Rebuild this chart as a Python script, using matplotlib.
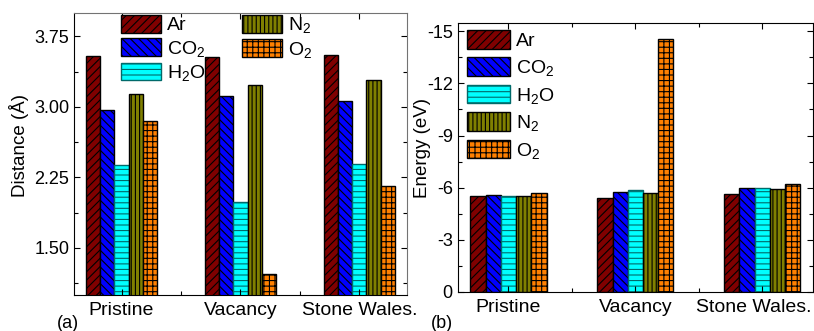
import matplotlib
matplotlib.use('Agg')
import matplotlib.pyplot as plt
import matplotlib.transforms as mtransforms
import numpy as np
from matplotlib.ticker import MultipleLocator, FormatStrFormatter

plt.rcParams['font.family'] = ['Liberation Sans', 'DejaVu Sans']
plt.rcParams['mathtext.fontset'] = 'custom'
plt.rcParams['mathtext.rm'] = 'Liberation Sans'
plt.rcParams['mathtext.it'] = 'Liberation Sans'
plt.rcParams['axes.unicode_minus'] = False
plt.rcParams['hatch.linewidth'] = 0.8

# data
sites = ['Pristine', 'Vacancy', 'Stone Wales.']
gases = ['Ar', 'CO$_2$', 'H$_2$O', 'N$_2$', 'O$_2$']
distance = {
    'Ar':  [3.54, 3.53, 3.55],
    'CO2': [2.97, 3.12, 3.06],
    'H2O': [2.38, 1.99, 2.39],
    'N2':  [3.14, 3.23, 3.29],
    'O2':  [2.85, 1.22, 2.16],
}
energy = {
    'Ar':  [-5.53, -5.39, -5.61],
    'CO2': [-5.58, -5.72, -5.95],
    'H2O': [-5.52, -5.85, -5.95],
    'N2':  [-5.53, -5.68, -5.91],
    'O2':  [-5.66, -14.57, -6.18],
}
keys = ['Ar', 'CO2', 'H2O', 'N2', 'O2']
colors = ['#800000', '#0000ff', '#00ffff', '#808000', '#ff8000']
edges = ['black', 'black', '#006a6a', 'black', 'black']
hatches = ['////', '\\\\\\\\', '---', '||||', '+++']

fig = plt.figure(figsize=(8.14, 3.31), dpi=100)
ax1 = fig.add_axes([0.0909, 0.1088, 0.409, 0.852])
ax2 = fig.add_axes([0.5623, 0.1187, 0.4365, 0.8127])

x = np.arange(len(sites))
w = 0.12


def draw(ax, data, labelsize):
    handles = []
    for i, k in enumerate(keys):
        b = ax.bar(x + (i - 2) * w, data[k], w, color=colors[i], edgecolor=edges[i],
                   hatch=hatches[i], linewidth=1.0, label=gases[i])
        handles.append(b)
    ax.set_xticks(x)
    ax.set_xticklabels(sites)
    ax.xaxis.set_minor_locator(MultipleLocator(0.5))
    ax.set_xlim(-0.4, 2.4)
    ax.tick_params(which='both', direction='in', top=True, right=True, labelsize=13)
    ax.tick_params(which='major', length=4.5, width=0.8)
    ax.tick_params(which='minor', length=3, width=0.8)
    ax.tick_params(axis='x', which='major', pad=5, labelsize=labelsize)
    return handles


h1 = draw(ax1, distance, 14)
ax1.set_ylim(1.0, 4.0)
ax1.yaxis.set_major_locator(MultipleLocator(0.75))
ax1.yaxis.set_minor_locator(MultipleLocator(0.375))
ax1.yaxis.set_major_formatter(FormatStrFormatter('%.2f'))
ax1.set_ylabel('Distance (Å)', fontsize=13.5)
ax1.yaxis.set_label_coords(-0.135, 0.53)
for s in ['top', 'right']:
    ax1.spines[s].set_color('0.45')
ax1.legend(handles=h1, ncol=2, loc='upper left', bbox_to_anchor=(0.135, 1.0),
           frameon=False, fontsize=14, handlelength=2.05, handleheight=1.02,
           labelspacing=0.2, columnspacing=1.9, handletextpad=0.3, borderaxespad=0.0,
           borderpad=0.1)

h2 = draw(ax2, energy, 14)
ax2.set_ylim(0, -15.5)
ax2.yaxis.set_major_locator(MultipleLocator(3))
ax2.yaxis.set_minor_locator(MultipleLocator(1.5))
ax2.set_ylabel('Energy (eV)', fontsize=13.5)
ax2.yaxis.set_label_coords(-0.075, 0.535)
ax2.legend(handles=h2, loc='upper left', bbox_to_anchor=(0.005, 1.0),
           frameon=False, fontsize=14, handlelength=2.2, handleheight=1.08,
           labelspacing=0.35, handletextpad=0.3, borderaxespad=0.0)

# keep the last category label inside the figure, as in the original
last = ax2.get_xticklabels()[-1]
last.set_transform(last.get_transform() +
                   mtransforms.ScaledTranslation(-9 / 100, 0, fig.dpi_scale_trans))

fig.text(0.070, 0.024, '(a)', fontsize=13, va='center')
fig.text(0.529, 0.024, '(b)', fontsize=13, va='center')

fig.savefig('out.png', dpi=100)
